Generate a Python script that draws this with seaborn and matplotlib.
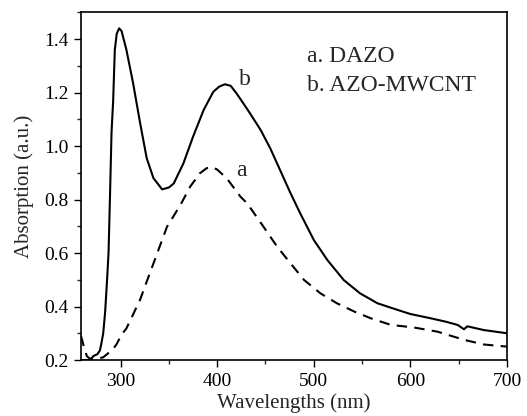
import matplotlib
matplotlib.use("Agg")
import pandas as pd
import seaborn as sns
import matplotlib.pyplot as plt
from matplotlib.ticker import MultipleLocator

# Curve a: DAZO (dashed)
wl_a = [259, 262, 265, 268, 275, 282, 287, 292, 296, 301, 306, 320, 334, 348, 362,
        372, 382, 389, 394.5, 400, 410, 424, 431, 448, 462, 476, 490, 507, 524, 542,
        559, 580, 603, 628, 656, 676, 700]
abs_a = [0.29, 0.25, 0.215, 0.205, 0.205, 0.21, 0.225, 0.24, 0.26, 0.295, 0.318, 0.424,
         0.561, 0.698, 0.780, 0.848, 0.898, 0.917, 0.922, 0.912, 0.879, 0.811, 0.786,
         0.698, 0.624, 0.561, 0.499, 0.449, 0.412, 0.381, 0.356, 0.331, 0.322, 0.306,
         0.275, 0.258, 0.25]

# Curve b: AZO-MWCNT (solid)
wl_b = [259, 268, 272, 276, 278.5, 280, 282, 284, 286, 287.5, 289, 290.6, 292.3, 294,
        296, 298.5, 301, 306, 313, 320, 327, 334, 343, 350, 355, 365, 375, 386, 396,
        402, 408, 414, 420, 427, 434, 445, 455, 462, 476, 486, 500, 514, 531, 548,
        566, 587, 600, 621, 637, 649, 655.5, 659, 676, 700]
abs_b = [0.2, 0.2, 0.215, 0.222, 0.235, 0.26, 0.30, 0.38, 0.5, 0.6, 0.81, 1.05, 1.17,
         1.36, 1.42, 1.44, 1.43, 1.36, 1.234, 1.09, 0.955, 0.88, 0.838, 0.845, 0.86,
         0.935, 1.035, 1.135, 1.203, 1.222, 1.231, 1.225, 1.197, 1.16, 1.122, 1.06,
         0.991, 0.935, 0.823, 0.748, 0.649, 0.574, 0.499, 0.449, 0.412, 0.387, 0.372,
         0.356, 0.343, 0.331, 0.315, 0.326, 0.312, 0.30]

df_a = pd.DataFrame({"wl": wl_a, "abs": abs_a})
df_b = pd.DataFrame({"wl": wl_b, "abs": abs_b})

sns.set_style("ticks")
plt.rcParams['font.family'] = ['Liberation Serif', 'DejaVu Serif']

fig = plt.figure(figsize=(5.27, 4.16), dpi=100)
ax = fig.add_axes([0.1537, 0.1346, 0.8083, 0.8358])

sns.lineplot(data=df_b, x="wl", y="abs", color="black", linewidth=1.5, ax=ax)
sns.lineplot(data=df_a, x="wl", y="abs", color="black", linewidth=1.5,
             linestyle=(0, (5, 3.5)), ax=ax)

ax.set_xlim(259, 700)
ax.set_ylim(0.2, 1.5)
ax.xaxis.set_major_locator(MultipleLocator(100))
ax.xaxis.set_minor_locator(MultipleLocator(50))
ax.yaxis.set_major_locator(MultipleLocator(0.2))
ax.yaxis.set_minor_locator(MultipleLocator(0.1))
ax.set_yticks([0.2, 0.4, 0.6, 0.8, 1.0, 1.2, 1.4])
ax.tick_params(which='major', direction='out', length=5, width=1, labelsize=14,
               colors='black', pad=4)
ax.tick_params(which='minor', direction='out', length=3, width=1)
for s in ax.spines.values():
    s.set_linewidth(1.2)
    s.set_color('black')

ax.set_xlabel("Wavelengths (nm)", fontsize=15, labelpad=3)
ax.set_ylabel("Absorption (a.u.)", fontsize=15, labelpad=7)

ax.text(493, 1.336, "a. DAZO", fontsize=17, va='center', ha='left')
ax.text(493, 1.228, "b. AZO-MWCNT", fontsize=17, va='center', ha='left')
ax.text(423, 1.25, "b", fontsize=17, va='center', ha='left')
ax.text(420, 0.91, "a", fontsize=17, va='center', ha='left')

fig.savefig("out.png", dpi=100)
